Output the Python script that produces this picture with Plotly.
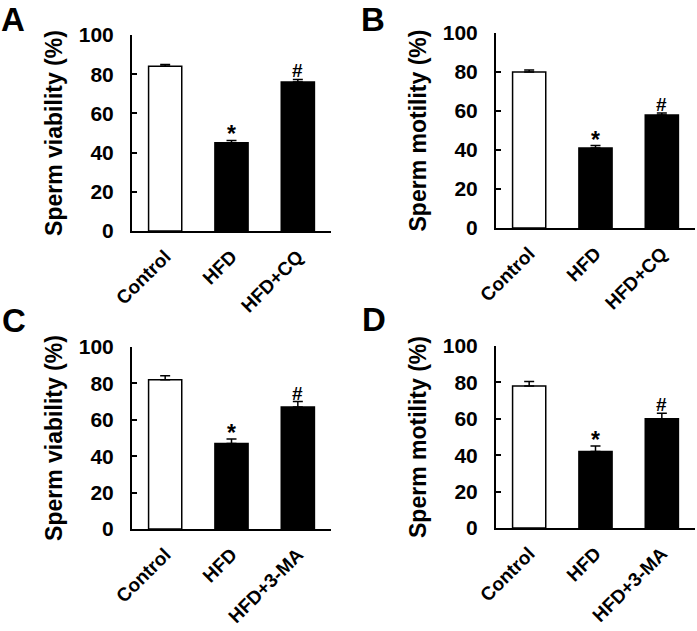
import plotly.graph_objects as go

W, H = 697, 631

cats_cq = ["Control", "HFD", "HFD+CQ"]
cats_ma = ["Control", "HFD", "HFD+3-MA"]

viab_cq = [84, 45, 76]
viab_cq_err = [1.0, 1.2, 1.3]
mot_cq = [80, 41, 58]
mot_cq_err = [1.0, 1.3, 1.0]
viab_ma = [82, 47, 67]
viab_ma_err = [2.2, 2.5, 3.0]
mot_ma = [78, 42, 60]
mot_ma_err = [2.5, 3.0, 3.0]

marks = ["", "*", "#"]
yticks = [0, 20, 40, 60, 80, 100]

panels = [
    dict(letter="A", cats=cats_cq, vals=viab_cq, err=viab_cq_err, title="Sperm viability (%)",
         px=(132, 331), py=(35, 231), lpos=(2, 4)),
    dict(letter="B", cats=cats_cq, vals=mot_cq, err=mot_cq_err, title="Sperm motility (%)",
         px=(496, 695), py=(33, 228), lpos=(362, 4)),
    dict(letter="C", cats=cats_ma, vals=viab_ma, err=viab_ma_err, title="Sperm viability (%)",
         px=(132, 331), py=(347, 529), lpos=(3, 305)),
    dict(letter="D", cats=cats_ma, vals=mot_ma, err=mot_ma_err, title="Sperm motility (%)",
         px=(496, 695), py=(346, 528), lpos=(363, 304)),
]

FONT = "Liberation Sans, Arial, sans-serif"
fig = go.Figure()
layout = dict(
    width=W, height=H, margin=dict(l=0, r=0, t=0, b=0, autoexpand=False),
    paper_bgcolor="white", plot_bgcolor="white", showlegend=False,
    font=dict(family=FONT, color="black"),
)
annotations = []

for i, p in enumerate(panels):
    n = "" if i == 0 else str(i + 1)
    xa, ya = "x" + n, "y" + n
    fig.add_trace(go.Bar(
        x=p["cats"], y=p["vals"], xaxis=xa, yaxis=ya,
        marker=dict(color=["white", "black", "black"], line=dict(color="black", width=1.5)),
        error_y=dict(type="data", array=p["err"], arrayminus=[0, 0, 0], symmetric=False,
                     color="black", thickness=1.5, width=5),
        width=0.5, hoverinfo="skip",
    ))
    layout["xaxis" + n] = dict(
        domain=[p["px"][0] / W, p["px"][1] / W], anchor=ya, automargin=False,
        range=[-0.5, 2.5], showline=True, linecolor="black", linewidth=2,
        ticks="", tickangle=-45, ticklabelstandoff=5,
        tickfont=dict(family=FONT, size=19, weight="bold", color="black"),
        showgrid=False, zeroline=False, fixedrange=True,
    )
    layout["yaxis" + n] = dict(
        domain=[1 - p["py"][1] / H, 1 - p["py"][0] / H], anchor=xa, automargin=False,
        range=[0, 100], tickvals=yticks, showline=True, linecolor="black", linewidth=2,
        ticks="inside", ticklen=5, tickwidth=2, tickcolor="black", ticklabelstandoff=12,
        tickfont=dict(family=FONT, size=21, weight="bold", color="black"),
        title=dict(text=p["title"], font=dict(family=FONT, size=23, weight="bold", color="black"),
                   standoff=10),
        showgrid=False, zeroline=False, fixedrange=True,
    )
    for c, v, e, m in zip(p["cats"], p["vals"], p["err"], marks):
        if m:
            annotations.append(dict(
                x=c, y=v + e, xref=xa, yref=ya, text=m, showarrow=False,
                yanchor="bottom", yshift=(-9 if m == "*" else -4),
                font=dict(family=FONT, size=(23 if m == "*" else 19), weight="bold", color="black"),
            ))
    annotations.append(dict(
        x=p["lpos"][0] / W, y=1 - p["lpos"][1] / H, xref="paper", yref="paper",
        xanchor="left", yanchor="top", text=p["letter"], showarrow=False,
        font=dict(family=FONT, size=33, weight="bold", color="black"), borderpad=0,
        xshift=-2, yshift=4,
    ))

layout["annotations"] = annotations
fig.update_layout(**layout)
fig.write_html("out.html", config={"displayModeBar": False, "staticPlot": True},
               post_script="document.body.style.margin='0';document.body.style.padding='0';")
